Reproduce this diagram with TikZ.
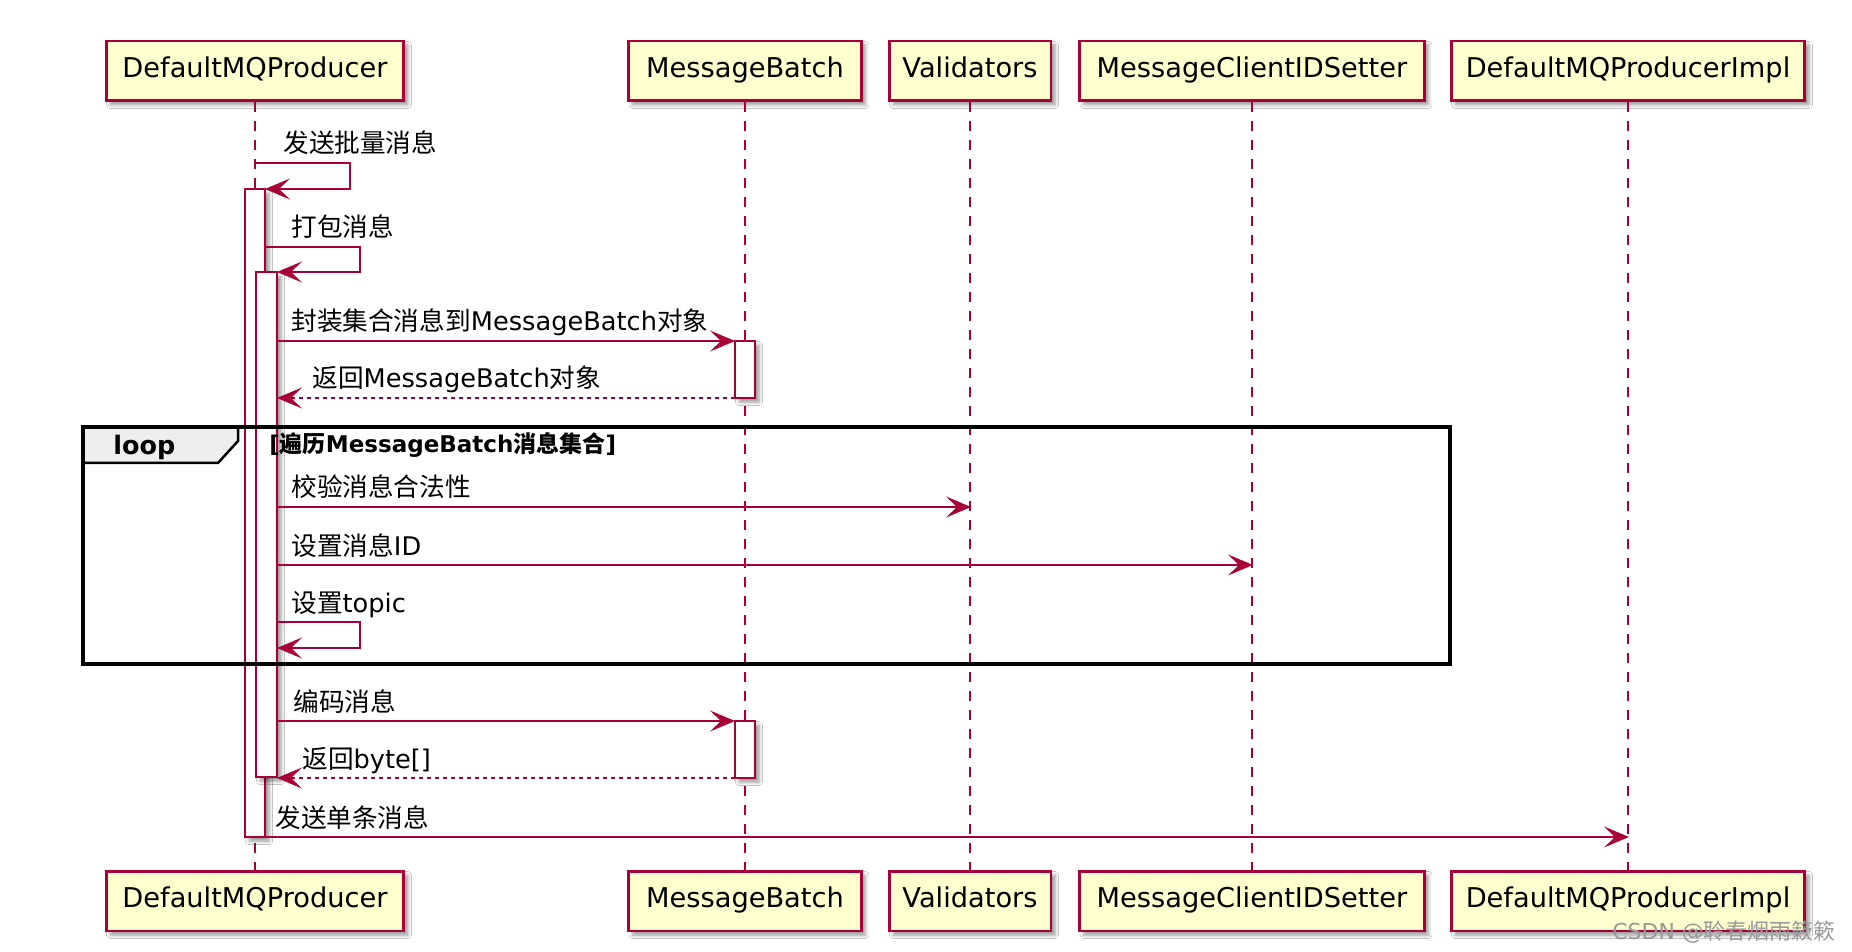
\documentclass[tikz,border=0pt]{standalone}
\usepackage{fontspec}
\setmainfont{DejaVu Sans}
\newfontfamily\cjk{Noto Sans CJK SC}
\usetikzlibrary{arrows.meta,shadows.blur}
\definecolor{umlred}{HTML}{A80036}
\definecolor{umlyellow}{HTML}{FEFECE}
\definecolor{umltab}{HTML}{EEEEEE}
\newcommand{\zh}[1]{{\cjk #1}}
\newcommand{\msgfont}{\fontsize{14.6}{17}\selectfont}

\begin{document}
\begin{tikzpicture}[x=0.02cm,y=-0.02cm,
   shade/.style={blur shadow={shadow xshift=0.08cm,shadow yshift=-0.08cm,shadow blur radius=0.07cm,shadow opacity=40}},
   participant/.style={draw=umlred,fill=umlyellow,line width=1.7pt,minimum height=1.2cm,inner sep=0pt,text height=0.8em,text depth=0.1em,shade,font=\fontsize{15.5}{18}\selectfont},
   lifeline/.style={draw=umlred,line width=1.1pt,dash pattern=on 0.2cm off 0.18cm},
   act/.style={draw=umlred,fill=white,line width=1.1pt,shade},
   msg/.style={draw=umlred,line width=1.1pt,-{Stealth[length=0.5cm,width=0.42cm,inset=0.22cm]}},
   ret/.style={msg,dash pattern=on 0.08cm off 0.08cm},
   lbl/.style={anchor=base west,inner sep=0pt,font=\msgfont}]
\path[use as bounding box,fill=white] (0,0) rectangle (1852,952);

\node[participant,minimum width=5.96cm] (dmpT) at (255,71) {DefaultMQProducer};
\node[participant,minimum width=4.66cm] (mbT) at (745,71) {MessageBatch};
\node[participant,minimum width=3.24cm] (valT) at (970,71) {Validators};
\node[participant,minimum width=6.9cm] (idT) at (1252,71) {MessageClientIDSetter};
\node[participant,minimum width=7.08cm] (implT) at (1628,71) {DefaultMQProducerImpl};
\node[participant,minimum width=5.96cm] (dmpB) at (255,901) {DefaultMQProducer};
\node[participant,minimum width=4.66cm] (mbB) at (745,901) {MessageBatch};
\node[participant,minimum width=3.24cm] (valB) at (970,901) {Validators};
\node[participant,minimum width=6.9cm] (idB) at (1252,901) {MessageClientIDSetter};
\node[participant,minimum width=7.08cm] (implB) at (1628,901) {DefaultMQProducerImpl};

\draw[lifeline] (dmpT) -- (dmpB);
\draw[lifeline] (mbT) -- (mbB);
\draw[lifeline] (valT) -- (valB);
\draw[lifeline] (idT) -- (idB);
\draw[lifeline] (implT) -- (implB);

% activations
\draw[act] (245,189) rectangle (265,837);
\draw[act] (256,272) rectangle (277,777);
\draw[act] (735,341) rectangle (755,398);
\draw[act] (735,721) rectangle (755,778);

% loop frame
\coordinate (fA) at (83,427);
\coordinate (fB) at (1450,664);
\draw[black!25,line width=0.08cm,shift={(4,4)}] (fA -| fB) -- (fB) -- (fA |- fB);
\draw[line width=0.05cm,fill=umltab] (fA) -- ++(155,0) -- ++(0,14) -- ++(-20,22) -- ++(-135,0) -- cycle;
\draw[line width=0.08cm] (fA) rectangle (fB);
\node[anchor=base west,inner sep=0pt,font=\bfseries\fontsize{14.5}{17}\selectfont] (loop) at ([shift={(30,28)}]fA) {loop};
\node[anchor=base west,inner sep=0pt,font=\bfseries\fontsize{13.1}{15}\selectfont] (cond) at ([shift={(186,26)}]fA) {[\zh{遍历}MessageBatch\zh{消息集合}]};

% messages
\coordinate (m1s) at (255,163); \coordinate (m1e) at (265,189);
\draw[msg] (m1s) -- ++(95,0) -- ++(0,26) -- (m1e);
\node[lbl] (l1) at ([shift={(28,-10)}]m1s) {\zh{发送批量消息}};

\coordinate (m2s) at (265,247); \coordinate (m2e) at (277,272);
\draw[msg] (m2s) -- ++(95,0) -- ++(0,25) -- (m2e);
\node[lbl] (l2) at ([shift={(26,-10)}]m2s) {\zh{打包消息}};

\coordinate (m3s) at (277,341); \coordinate (m3e) at (735,341);
\draw[msg] (m3s) -- (m3e);
\node[lbl] (l3) at ([shift={(14,-10)}]m3s) {\zh{封装集合消息到}MessageBatch\zh{对象}};

\coordinate (m4s) at (735,398); \coordinate (m4e) at (277,398);
\draw[ret] (m4s) -- (m4e);
\node[lbl] (l4) at ([shift={(35,-10)}]m4e) {\zh{返回}MessageBatch\zh{对象}};

\coordinate (m5s) at (277,507); \coordinate (m5e) at (971,507);
\draw[msg] (m5s) -- (m5e);
\node[lbl] (l5) at ([shift={(14,-10)}]m5s) {\zh{校验消息合法性}};

\coordinate (m6s) at (277,565); \coordinate (m6e) at (1253,565);
\draw[msg] (m6s) -- (m6e);
\node[lbl] (l6) at ([shift={(14,-10)}]m6s) {\zh{设置消息}ID};

\coordinate (m7s) at (277,622); \coordinate (m7e) at (277,648);
\draw[msg] (m7s) -- ++(83,0) -- ++(0,26) -- (m7e);
\node[lbl] (l7) at ([shift={(14,-10)}]m7s) {\zh{设置}topic};

\coordinate (m8s) at (277,721); \coordinate (m8e) at (735,721);
\draw[msg] (m8s) -- (m8e);
\node[lbl] (l8) at ([shift={(16,-10)}]m8s) {\zh{编码消息}};

\coordinate (m9s) at (735,778); \coordinate (m9e) at (277,778);
\draw[ret] (m9s) -- (m9e);
\node[lbl] (l9) at ([shift={(25,-10)}]m9e) {\zh{返回}byte[]};

\coordinate (m10s) at (265,837); \coordinate (m10e) at (1629,837);
\draw[msg] (m10s) -- (m10e);
\node[lbl] (l10) at ([shift={(10,-10)}]m10s) {\zh{发送单条消息}};

\node[anchor=east,inner sep=0pt,text=black!40,font=\fontsize{12.5}{14}\selectfont] (mark) at (1836,932) {CSDN @\zh{聆春烟雨簌簌}};
\end{tikzpicture}
\end{document}
